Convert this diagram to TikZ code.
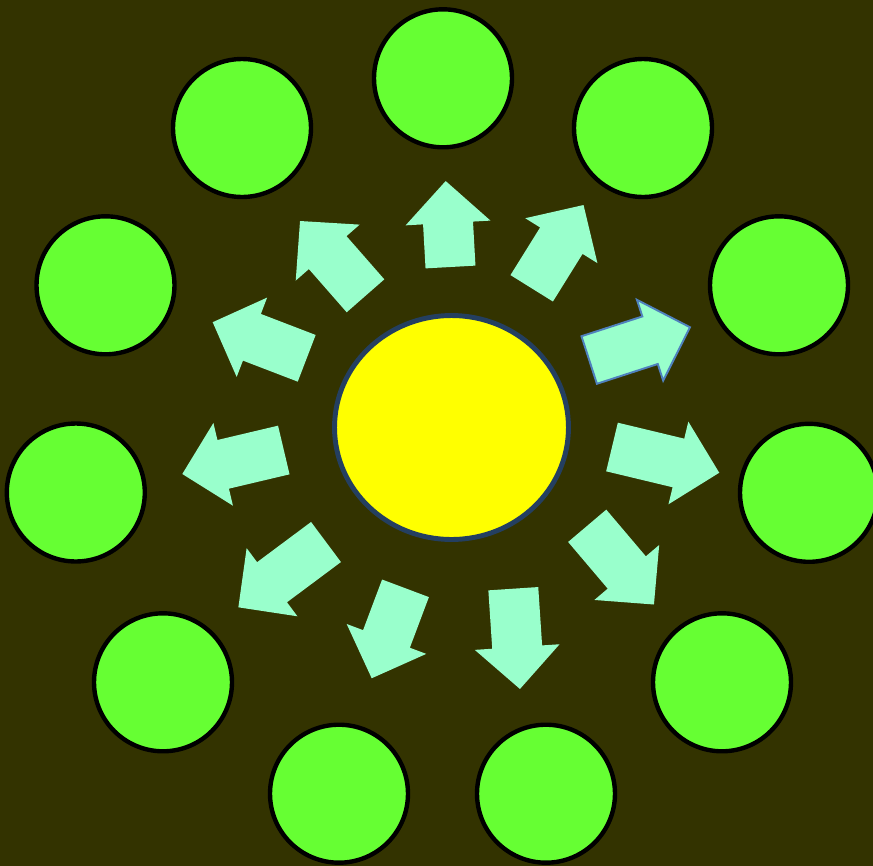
\documentclass[tikz,border=0pt]{standalone}
\usepackage{tikz}
\definecolor{bgolive}{RGB}{51,51,0}
\definecolor{ringgreen}{RGB}{102,255,51}
\definecolor{sunyellow}{RGB}{255,255,0}
\definecolor{sunedge}{RGB}{36,63,96}
\definecolor{arrowmint}{RGB}{153,255,204}
\definecolor{arrowedge}{RGB}{79,129,189}
\usetikzlibrary{shapes.geometric}

\begin{document}
\begin{tikzpicture}[x=0.02cm, y=-0.02cm,
  planet/.style={circle, draw=black, line width=2.5pt, fill=ringgreen, minimum size=2.76cm, inner sep=0pt},
  sun/.style={ellipse, draw=sunedge, line width=2.8pt, fill=sunyellow, minimum width=4.68cm, minimum height=4.48cm, inner sep=0pt},
  arrowbody/.style={fill=arrowmint},
  pics/fatarrow/.style={code={\path[arrowbody] (0,-25) -- ({#1-42},-25) -- ({#1-42},-42.5) -- (#1,0) -- ({#1-42},42.5) -- ({#1-42},25) -- (0,25) -- cycle;}}]
  \useasboundingbox (0,0) rectangle (873,866);
  \fill[bgolive] (0,0) rectangle (873,866);

  % centre
  \node[sun] (core) at (451.5,427.5) {};

  % outward arrows
  \pic[rotate=93.2] at (450.5,267) {fatarrow=86.1};
  \pic[rotate=58.1] at (531.7,288.3) {fatarrow=98.1};
  \pic[rotate=18, arrowbody/.append style={draw=arrowedge, line width=1.1pt}] at (589.2,360) {fatarrow=106};
  \pic[rotate=-13.5] at (612,447) {fatarrow=110.3};
  \pic[rotate=-49.7] at (587.2,525.8) {fatarrow=103.2};
  \pic[rotate=-86.2] at (513.3,588.7) {fatarrow=100.5};
  \pic[rotate=-110.6] at (405.5,588.3) {fatarrow=96.1};
  \pic[rotate=216.7] at (326,542) {fatarrow=109.3};
  \pic[rotate=193.3] at (283.8,450) {fatarrow=104.3};
  \pic[rotate=159] at (306.7,358.3) {fatarrow=100.7};
  \pic[rotate=131.2] at (365.5,295.8) {fatarrow=99.4};

  % ring of circles
  \node[planet] (p1) at (443,78.3) {};
  \node[planet] (p2) at (643,128) {};
  \node[planet] (p3) at (779,285.3) {};
  \node[planet] (p4) at (809,492.8) {};
  \node[planet] (p5) at (722,682.3) {};
  \node[planet] (p6) at (546,793.7) {};
  \node[planet] (p7) at (339,793.7) {};
  \node[planet] (p8) at (163,682.3) {};
  \node[planet] (p9) at (75.8,492.5) {};
  \node[planet] (p10) at (105.5,285.3) {};
  \node[planet] (p11) at (242,128) {};
\end{tikzpicture}
\end{document}
